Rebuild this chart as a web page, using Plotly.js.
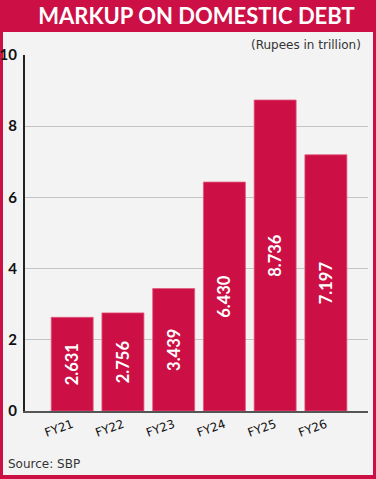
<!DOCTYPE html>
<html>
<head>
<meta charset="utf-8">
<script src="https://cdn.plot.ly/plotly-3.0.1.min.js"></script>
<style>
html,body{margin:0;padding:0;background:#CC1045;}
#chart{width:376px;height:479px;}
</style>
</head>
<body>
<div id="chart"></div>
<script>
const categories = ["FY21", "FY22", "FY23", "FY24", "FY25", "FY26"];
const markup = [2.631, 2.756, 3.439, 6.430, 8.736, 7.197];
const labels = ["2.631", "2.756", "3.439", "6.430", "8.736", "7.197"];
const yTicks = [0, 2, 4, 6, 8, 10];

const RED = "#CC1045";
const FONT = "Lato, 'Open Sans', sans-serif";
const FONT2 = "'DejaVu Sans', sans-serif";

const W = 376, H = 479;
const L = 25, R = 8, T = 55, B = 68;
const pw = W - L - R, ph = H - T - B;
const px = v => (v - L) / pw;
const py = v => (H - B - v) / ph;

const trace = {
  type: "bar",
  x: categories,
  y: markup,
  text: labels,
  texttemplate: "%{text}",
  textposition: "inside",
  insidetextanchor: "middle",
  textangle: -90,
  textfont: {family: FONT, size: 16.5, color: "#ffffff", weight: "bold"},
  marker: {color: RED, line: {color: "#E2587C", width: 0.8}},
  hoverinfo: "none",
  cliponaxis: false
};

const layout = {
  width: W, height: H,
  margin: {l: L, r: R, t: T, b: B, pad: 0},
  paper_bgcolor: RED,
  plot_bgcolor: "rgba(0,0,0,0)",
  showlegend: false,
  bargap: 0.173,
  title: {
    text: "<b>MARKUP ON DOMESTIC DEBT</b>",
    font: {family: FONT, size: 22, color: "#ffffff"},
    x: 0.5, xanchor: "center", xref: "paper",
    y: 1 - 16 / H, yanchor: "middle", yref: "container"
  },
  xaxis: {
    type: "category",
    range: [-0.93, 5.83],
    showline: true, linecolor: "#555555", linewidth: 2,
    showgrid: false, zeroline: false,
    ticks: "", tickangle: -20,
    tickfont: {family: FONT2, size: 12, color: "#111111"},
    fixedrange: true
  },
  yaxis: {
    range: [0, 10],
    tickvals: yTicks,
    ticktext: yTicks.map(String),
    showline: true, linecolor: "#222222", linewidth: 2,
    showgrid: true, gridcolor: "#C4C4C4", gridwidth: 1,
    zeroline: false, ticks: "",
    tickfont: {family: FONT, size: 15, color: "#111111", weight: "bold"},
    ticklabelstandoff: 3,
    fixedrange: true
  },
  shapes: [{
    type: "rect", xref: "paper", yref: "paper", layer: "below",
    x0: px(3), x1: px(373), y0: py(475), y1: py(32),
    fillcolor: "#F3F3F3", line: {width: 0}
  }],
  annotations: [
    {
      text: "(Rupees in trillion)", showarrow: false,
      xref: "paper", yref: "paper",
      x: px(363), xanchor: "right", y: py(45), yanchor: "middle",
      font: {family: FONT2, size: 12, color: "#333333"}
    },
    {
      text: "Source: SBP", showarrow: false,
      xref: "paper", yref: "paper",
      x: px(6), xanchor: "left", y: py(464), yanchor: "middle",
      font: {family: FONT2, size: 12, color: "#333333"}
    }
  ]
};

Plotly.newPlot("chart", [trace], layout, {staticPlot: true, displayModeBar: false});
</script>
</body>
</html>
